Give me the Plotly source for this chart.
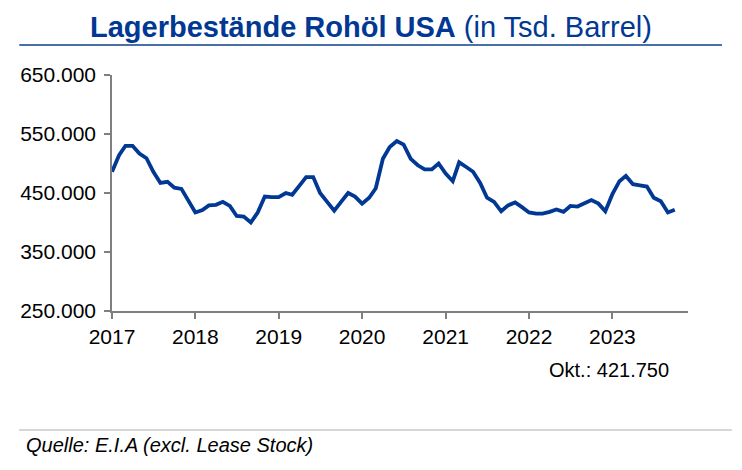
import pandas as pd
import plotly.graph_objects as go

# Monthly crude oil stocks USA (thousand barrels), Jan 2017 - Oct 2023
stocks_2017 = [486000, 514000, 530000, 530000, 517000, 509000, 486000, 467000, 469000, 459000, 457000, 436000]
stocks_2018 = [417000, 421000, 429000, 430000, 435000, 428000, 411000, 410000, 400000, 417000, 444000, 443000]
stocks_2019 = [443000, 450000, 447000, 462000, 477000, 477000, 450000, 435000, 420000, 435000, 450000, 444000]
stocks_2020 = [432000, 442000, 458000, 508000, 528000, 538000, 532000, 508000, 497000, 490000, 490000, 500000]
stocks_2021 = [483000, 470000, 502000, 494000, 486000, 467000, 442000, 435000, 419000, 429000, 434000, 426000]
stocks_2022 = [417000, 415000, 415000, 418000, 422000, 418000, 428000, 427000, 432000, 438000, 432000, 419000]
stocks_2023 = [448000, 470000, 479000, 465000, 463000, 461000, 442000, 436000, 417000, 421750]

year_ticks = ["2017-01-01", "2018-01-01", "2019-01-01", "2020-01-01",
              "2021-01-01", "2022-01-01", "2023-01-01"]
year_labels = ["2017", "2018", "2019", "2020", "2021", "2022", "2023"]
y_ticks = [250000, 350000, 450000, 550000, 650000]

values = stocks_2017 + stocks_2018 + stocks_2019 + stocks_2020 + stocks_2021 + stocks_2022 + stocks_2023
months = pd.date_range("2017-01-01", periods=len(values), freq="MS")

BLUE = "#003893"
AXIS = "#7f7f7f"
FONT = "Arial, Liberation Sans, sans-serif"

fig = go.Figure()
fig.add_trace(go.Scatter(
    x=months,
    y=values,
    mode="lines",
    line=dict(color=BLUE, width=3.8),
    hoverinfo="x+y",
))

# the page body adds 8px, so the figure is 8px smaller than the window
fig.update_layout(
    width=734,
    height=462,
    margin=dict(l=96, r=54, t=67, b=159),
    paper_bgcolor="white",
    plot_bgcolor="white",
    showlegend=False,
    separators=",.",
    font=dict(family=FONT, color="black", size=20),
)

fig.update_xaxes(
    type="date",
    range=["2017-01-01", "2023-11-28"],
    tickvals=year_ticks,
    ticktext=year_labels,
    showline=True, linecolor=AXIS, linewidth=1.5,
    ticks="outside", ticklen=6, tickcolor=AXIS, tickwidth=1.5,
    showgrid=False, zeroline=False,
    tickfont=dict(size=21),
)
fig.update_yaxes(
    range=[250000, 650000],
    tickvals=y_ticks,
    tickformat=",d",
    showline=True, linecolor=AXIS, linewidth=1.5,
    ticks="outside", ticklen=6, tickcolor=AXIS, tickwidth=1.5,
    showgrid=False, zeroline=False,
    tickfont=dict(size=21),
    ticklabelstandoff=4,
)

# header, separators and notes (positions in paper coords)
fig.add_annotation(
    x=0.449, y=1.203, xref="paper", yref="paper", showarrow=False,
    text="<b>Lagerbestände Rohöl USA</b> (in Tsd. Barrel)",
    font=dict(size=29, color=BLUE), xanchor="center", yanchor="middle",
)
fig.add_shape(type="line", xref="paper", yref="paper",
              x0=-0.161, x1=1.059, y0=1.127, y1=1.127,
              line=dict(color="#4a70a8", width=2))
fig.add_annotation(
    x=0.970, y=-0.25, xref="paper", yref="paper", showarrow=False,
    text="Okt.: 421.750", font=dict(size=20),
    xanchor="right", yanchor="middle",
)
fig.add_shape(type="line", xref="paper", yref="paper",
              x0=-0.161, x1=1.076, y0=-0.504, y1=-0.504,
              line=dict(color="#c8c8c8", width=1.5))
fig.add_annotation(
    x=-0.152, y=-0.568, xref="paper", yref="paper", showarrow=False,
    text="<i>Quelle: E.I.A (excl. Lease Stock)</i>", font=dict(size=20),
    xanchor="left", yanchor="middle",
)

fig.write_html("out.html")
